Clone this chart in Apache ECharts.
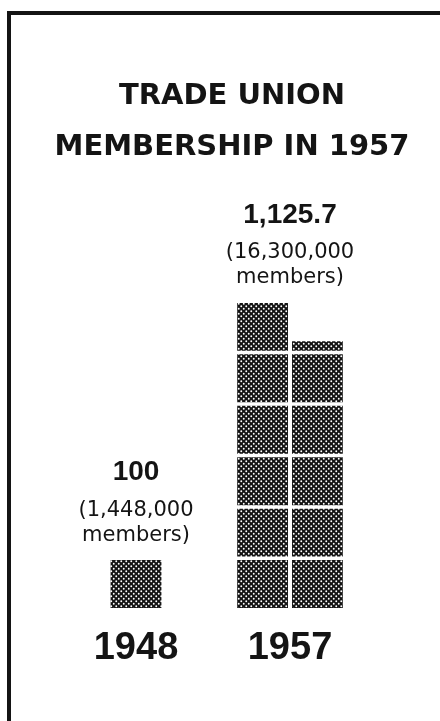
<!DOCTYPE html>
<html>
<head>
<meta charset="utf-8">
<title>Trade Union Membership in 1957</title>
<script src="https://cdn.jsdelivr.net/npm/echarts@6/dist/echarts.min.js"></script>
<style>
  html, body { margin: 0; padding: 0; background: #fff; }
  #chart { width: 440px; height: 721px; }
</style>
</head>
<body>
<div id="chart"></div>
<script>
// data (index: 1948 = 100)
const years = ['1948', '1957'];
const indexValues = [100, 1125.7];
const indexLabels = ['100', '1,125.7'];
const memberLabels = ['(1,448,000', '(16,300,000'];
const unitValue = 100;        // one square = 100 index points
const squaresPerColumn = 6;   // squares stack into columns of six

const ink = '#141414';

// halftone screen used to fill the squares
function makeHalftone() {
  const c = document.createElement('canvas');
  c.width = 5;
  c.height = 5;
  const ctx = c.getContext('2d');
  ctx.fillStyle = ink;
  ctx.fillRect(0, 0, 5, 5);
  ctx.fillStyle = '#fff';
  [[1.25, 1.25], [3.75, 3.75]].forEach(p => {
    ctx.beginPath();
    ctx.arc(p[0], p[1], 0.95, 0, Math.PI * 2);
    ctx.fill();
  });
  return c;
}
const halftone = { image: makeHalftone(), repeat: 'repeat' };

// split every value into squares: [yearIndex, from, to, column, columnCount]
const cells = [];
years.forEach((y, i) => {
  const colCap = unitValue * squaresPerColumn;
  const nCols = Math.ceil(indexValues[i] / colCap);
  let remaining = indexValues[i];
  for (let c = 0; c < nCols; c++) {
    const colVal = Math.min(remaining, colCap);
    remaining -= colVal;
    for (let s = 0; s < colVal; s += unitValue) {
      cells.push([i, s, Math.min(s + unitValue, colVal), c, nCols]);
    }
  }
});

const gap = 4;

function renderCell(params, api) {
  const band = api.size([1, 0])[0];
  const colW = band * 0.33;
  const c = api.value(3), n = api.value(4);
  const base = api.coord([api.value(0), api.value(1)]);
  const top = api.coord([api.value(0), api.value(2)]);
  const cx = base[0] + (c - (n - 1) / 2) * (colW + gap);
  return {
    type: 'rect',
    shape: { x: cx - colW / 2, y: top[1] + 3.5, width: colW, height: base[1] - top[1] - 3.5 },
    style: { fill: halftone }
  };
}

function renderLabel(params, api) {
  const i = api.value(0);
  const pt = api.coord([i, api.value(1)]);
  return {
    type: 'text',
    x: pt[0],
    y: pt[1] - 9,
    style: {
      text: '{v|' + indexLabels[i] + '}\n{m|' + memberLabels[i] + '}\n{m|members)}',
      align: 'center',
      verticalAlign: 'bottom',
      fill: ink,
      rich: {
        v: { fontFamily: 'Liberation Sans', fontWeight: 'bold', fontSize: 28, lineHeight: 50, fill: ink },
        m: { fontFamily: 'DejaVu Sans', fontSize: 21, lineHeight: 25, fill: ink }
      }
    }
  };
}

const chart = echarts.init(document.getElementById('chart'), null, { renderer: 'canvas' });
chart.setOption({
  backgroundColor: '#fff',
  animation: false,
  title: {
    text: 'TRADE UNION\nMEMBERSHIP IN 1957',
    left: 227,
    top: 66,
    textAlign: 'center',
    textStyle: {
      fontFamily: 'DejaVu Sans',
      fontWeight: 'bold',
      fontSize: 29,
      lineHeight: 51,
      color: ink
    }
  },
  grid: { left: 59, right: 73, top: 248, bottom: 113 },
  xAxis: {
    type: 'category',
    data: years,
    axisLine: { show: false },
    axisTick: { show: false },
    axisLabel: {
      margin: 22,
      fontFamily: 'Liberation Sans',
      fontWeight: 'bold',
      fontSize: 38,
      color: ink
    }
  },
  yAxis: { type: 'value', min: 0, max: 700, show: false },
  graphic: [{
    type: 'polyline',
    shape: { points: [[9, 721], [9, 13], [440, 13]] },
    style: { stroke: ink, lineWidth: 4, fill: null }
  }],
  series: [
    {
      type: 'custom',
      renderItem: renderCell,
      encode: { x: 0, y: [1, 2] },
      data: cells
    },
    {
      type: 'custom',
      renderItem: renderLabel,
      encode: { x: 0, y: 1 },
      data: years.map((y, i) => [i, Math.min(indexValues[i], unitValue * squaresPerColumn)])
    }
  ]
});
</script>
</body>
</html>
